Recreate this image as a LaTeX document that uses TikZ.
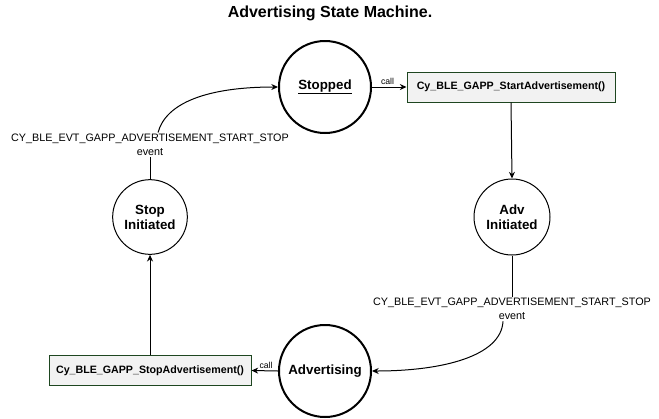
\documentclass[tikz,border=0pt]{standalone}
\usepackage{fontspec}
\setmainfont{Liberation Sans}
\usetikzlibrary{arrows.meta,calc}
\definecolor{boxfill}{HTML}{F2F2F2}
\definecolor{boxdraw}{HTML}{1E4620}
\tikzset{
  bigstate/.style={circle,draw,line width=1.5pt,minimum size=69pt,inner sep=0pt,font=\fontsize{10}{12}\selectfont\bfseries,align=center},
  smallstate/.style={circle,draw,line width=0.75pt,minimum size=57pt,inner sep=0pt,font=\fontsize{10}{11.3}\selectfont\bfseries,align=center},
  callbox/.style={rectangle,draw=boxdraw,fill=boxfill,line width=0.75pt,minimum height=22.5pt,inner sep=0pt,font=\fontsize{8}{9}\selectfont\bfseries},
  evlabel/.style={font=\fontsize{8.1}{10.5}\selectfont,align=center,inner sep=1pt},
  calllabel/.style={font=\fontsize{6.5}{7.5}\selectfont,inner sep=1.5pt},
  conn/.style={line width=0.75pt,-{Stealth[length=5pt,width=4.5pt]}},
  plain/.style={line width=0.75pt}
}
\begin{document}
\begin{tikzpicture}[x=0.75pt,y=-0.75pt]
\useasboundingbox (0,0) rectangle (659,418);
\node[font=\fontsize{12}{14}\selectfont\bfseries] (title) at (330,13) {Advertising State Machine.};
\node[bigstate] (stopped) at (325,87) {\underline{Stopped}};
\node[callbox,minimum width=156pt] (startbox) at (511,87) {Cy\_BLE\_GAPP\_StartAdvertisement()};
\node[smallstate] (advinit) at (512,217) {Adv\\Initiated};
\node[bigstate] (adv) at (325,371) {Advertising};
\node[callbox,minimum width=151.5pt] (stopbox) at (150,370.5) {Cy\_BLE\_GAPP\_StopAdvertisement()};
\node[smallstate,minimum size=56pt] (stopinit) at (150,217) {Stop\\Initiated};
\node[evlabel] (lbl1) at (150,145) {CY\_BLE\_EVT\_GAPP\_ADVERTISEMENT\_START\_STOP\\event};
\node[evlabel] (lbl2) at (512,309) {CY\_BLE\_EVT\_GAPP\_ADVERTISEMENT\_START\_STOP\\event};
% connectors
\draw[conn] (stopped.east) -- node[calllabel,above,pos=0.45] {call} (startbox.west);
\draw[conn] (startbox.south) -- (advinit.north);
\draw[plain] (advinit.south) -- (lbl2.north);
\draw[conn] ($(lbl2.south)+(-9,0)$) .. controls +(-2,35) and +(70,0) .. (adv.east);
\draw[conn] (adv.west) -- node[calllabel,above,pos=0.45] {call} (stopbox.east);
\draw[conn] (stopbox.north) -- (stopinit.south);
\draw[plain] (stopinit.north) -- (lbl1.south);
\draw[conn] ($(lbl1.north)+(8,0)$) .. controls +(8,-30) and +(-70,0) .. (stopped.west);
\end{tikzpicture}
\end{document}
